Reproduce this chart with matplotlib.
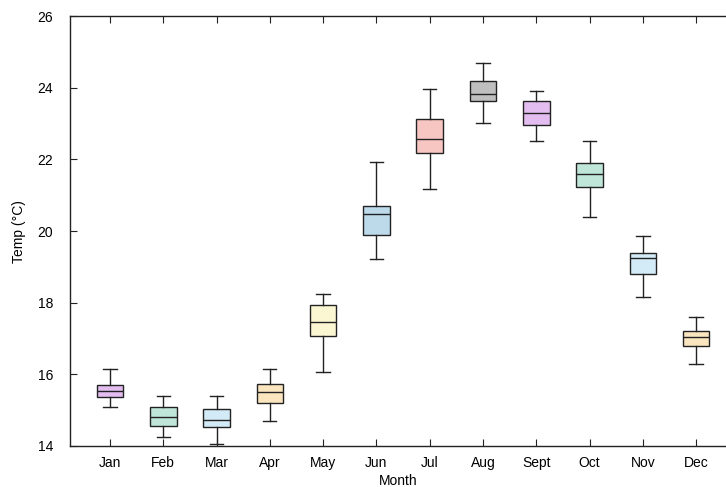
import matplotlib
matplotlib.use('Agg')
import matplotlib.pyplot as plt

months = ['Jan', 'Feb', 'Mar', 'Apr', 'May', 'Jun', 'Jul', 'Aug', 'Sept', 'Oct', 'Nov', 'Dec']
whislo = [15.10, 14.24, 14.06, 14.69, 16.07, 19.21, 21.18, 23.01, 22.52, 20.38, 18.17, 16.30]
q1 = [15.36, 14.56, 14.54, 15.21, 17.06, 19.90, 22.18, 23.64, 22.97, 21.23, 18.81, 16.79]
med = [15.54, 14.81, 14.73, 15.51, 17.45, 20.47, 22.56, 23.83, 23.30, 21.59, 19.25, 17.03]
q3 = [15.69, 15.09, 15.04, 15.73, 17.93, 20.71, 23.13, 24.19, 23.62, 21.89, 19.40, 17.21]
whishi = [16.15, 15.39, 15.39, 16.16, 18.23, 21.92, 23.96, 24.69, 23.92, 22.51, 19.86, 17.59]
colors = ['#e3bdf0', '#bfe6d9', '#d3ebf7', '#fae5be', '#fcf7d3', '#bddaeb',
          '#f7c5c2', '#bfbfbf', '#e3bdf0', '#bfe6d9', '#d3ebf7', '#fae5be']

plt.rcParams['font.family'] = ['Liberation Sans', 'DejaVu Sans']
plt.rcParams['font.size'] = 10

stats = []
for i, m in enumerate(months):
    stats.append({'label': m, 'whislo': whislo[i], 'q1': q1[i], 'med': med[i],
                  'q3': q3[i], 'whishi': whishi[i], 'fliers': []})

fig = plt.figure(figsize=(7.26, 4.87), dpi=100)
ax = fig.add_axes([0.0964, 0.0842, 0.9036, 0.8825])

line = dict(color='#222222', linewidth=1.0)
bp = ax.bxp(stats, positions=range(1, 13), widths=0.5, patch_artist=True,
            boxprops=dict(edgecolor='#222222', linewidth=1.0),
            medianprops=line, whiskerprops=line, capprops=line,
            showfliers=False)
for patch, c in zip(bp['boxes'], colors):
    patch.set_facecolor(c)

ax.set_xlim(0.25, 12.56)
ax.set_ylim(14, 26)
ax.set_yticks(range(14, 27, 2))
ax.set_xticks(range(1, 13))
ax.set_xticklabels(months)
ax.spines['right'].set_visible(False)
for s in ['left', 'bottom', 'top']:
    ax.spines[s].set_linewidth(1.0)
    ax.spines[s].set_color('#222222')
ax.tick_params(direction='in', length=5, top=True, right=False, colors='#222222',
               labelcolor='black')
ax.tick_params(axis='x', pad=7)
ax.tick_params(axis='y', pad=12)
ax.set_xlabel('Month', labelpad=3)
ax.set_ylabel('Temp (°C)', labelpad=8)

fig.savefig('out.png', dpi=100)
